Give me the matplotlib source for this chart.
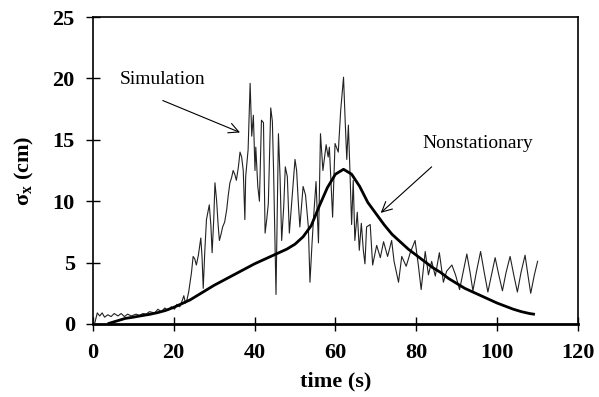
import numpy as np
import matplotlib
matplotlib.use("Agg")
import matplotlib.pyplot as plt

plt.rcParams['font.family'] = ['Liberation Serif', 'DejaVu Serif']
plt.rcParams['mathtext.fontset'] = 'custom'
plt.rcParams['mathtext.rm'] = 'Liberation Serif'
plt.rcParams['mathtext.it'] = 'Liberation Serif'
plt.rcParams['mathtext.bf'] = 'Liberation Serif:bold'

# simulated response (time in s, sigma_x in cm)
t_sim = [0.5, 1.1, 1.7, 2.3, 2.9, 3.7, 4.5, 5.3, 6.2, 7.0, 7.8, 8.6, 9.5,
         10.7, 11.5, 12.4, 13.2, 14.0, 15.3, 16.1, 16.9, 17.8, 18.6, 19.4,
         20.2, 20.8, 21.5, 22.1, 22.5, 22.9, 23.3, 23.7, 24.0, 24.4, 24.8,
         25.2, 25.6, 26.1, 26.7, 27.0, 27.3, 27.7, 28.1, 28.8, 29.2, 29.5,
         29.9, 30.2, 30.6, 31.0, 31.3, 31.7, 32.1, 32.6, 33.1, 33.5, 33.9,
         34.3, 34.7, 35.1, 35.5, 36.0, 36.4, 36.8, 37.2, 37.6, 37.8, 38.4,
         38.9, 39.3, 39.7, 40.1, 40.3, 40.8, 41.2, 41.7, 42.2, 42.6, 43.0,
         43.4, 44.0, 44.4, 44.7, 45.3, 45.9, 46.3, 46.7, 47.2, 47.6, 48.1,
         48.6, 49.2, 50.0, 50.4, 50.8, 51.2, 52.0, 52.6, 53.3, 53.7, 54.2,
         54.6, 55.2, 55.8, 56.3, 56.9, 57.7, 58.2, 58.5, 59.3, 59.9, 60.7,
         61.3, 62.0, 62.4, 62.8, 63.2, 63.6, 64.0, 64.4, 64.8, 65.4, 65.9,
         66.4, 66.9, 67.3, 67.7, 68.6, 69.2, 70.2, 71.1, 71.9, 72.9, 73.9,
         74.5, 75.6, 76.4, 77.5, 78.5, 79.7, 80.5, 81.2, 82.2, 83.0, 83.8,
         84.7, 85.7, 86.7, 87.5, 88.8, 89.7, 90.7, 91.7, 92.5, 93.3, 94.0,
         94.9, 95.9, 96.8, 97.7, 98.6, 99.5, 100.4, 101.3, 102.2, 103.2,
         104.1, 105.0, 105.9, 106.9, 107.6, 108.3, 109.2, 110.0]
sx_sim = [0.1, 0.9, 0.65, 0.9, 0.55, 0.75, 0.6, 0.85, 0.65, 0.85, 0.6, 0.8,
          0.65, 0.8, 0.7, 0.85, 0.8, 1.0, 0.9, 1.2, 1.0, 1.3, 1.1, 1.4, 1.2,
          1.6, 1.4, 1.9, 2.3, 1.7, 2.0, 2.6, 3.3, 4.2, 5.5, 5.3, 4.8, 5.6,
          7.0, 5.5, 2.9, 6.0, 8.5, 9.7, 8.0, 5.8, 8.5, 11.5, 10.1, 8.0, 6.8,
          7.3, 7.9, 8.3, 9.3, 10.5, 11.5, 11.9, 12.5, 12.2, 11.7, 12.8, 14.0,
          13.6, 12.5, 8.5, 12.0, 14.2, 19.6, 15.3, 17.0, 12.5, 14.4, 11.2,
          10.0, 16.6, 16.4, 7.4, 8.5, 9.8, 17.6, 16.5, 12.5, 2.4, 15.5, 12.0,
          6.8, 9.5, 12.8, 12.0, 7.4, 10.0, 13.4, 12.5, 10.0, 7.9, 11.2, 10.5,
          7.9, 3.4, 6.5, 8.7, 11.6, 6.6, 15.5, 12.5, 14.6, 13.6, 14.4, 8.7,
          14.7, 14.0, 17.4, 20.1, 16.6, 13.4, 16.2, 12.3, 8.1, 11.7, 6.8,
          9.1, 6.0, 8.2, 6.0, 4.9, 7.9, 8.1, 4.8, 6.4, 5.4, 6.7, 5.5, 6.8,
          5.1, 3.4, 5.5, 4.7, 5.8, 6.8, 4.8, 2.8, 5.9, 4.0, 5.1, 3.9, 5.8,
          3.4, 4.3, 4.8, 4.0, 2.8, 4.4, 5.7, 4.2, 2.7, 4.3, 5.9, 4.2, 2.6,
          4.0, 5.4, 4.0, 2.7, 4.2, 5.5, 4.0, 2.6, 4.2, 5.6, 4.0, 2.5, 4.0, 5.1]

# nonstationary model
t_ns = [4, 6, 8, 10, 12, 14, 16, 18, 20, 22, 24, 26, 28, 30, 32, 34, 36, 38,
        40, 42, 44, 46, 48, 50, 52, 54, 56, 58, 60, 62, 64, 66, 68, 70, 72,
        74, 76, 78, 80, 82, 84, 86, 88, 90, 92, 94, 96, 98, 100, 102, 104,
        106, 108, 109]
sx_ns = [0.05, 0.25, 0.45, 0.55, 0.67, 0.78, 0.92, 1.1, 1.35, 1.65, 1.95,
         2.35, 2.75, 3.15, 3.5, 3.85, 4.2, 4.55, 4.9, 5.2, 5.5, 5.8, 6.1,
         6.5, 7.1, 8.0, 9.6, 11.1, 12.2, 12.6, 12.2, 11.2, 9.9, 9.0, 8.1,
         7.3, 6.7, 6.1, 5.6, 5.1, 4.6, 4.2, 3.7, 3.3, 2.9, 2.6, 2.3, 2.0,
         1.7, 1.45, 1.2, 1.0, 0.85, 0.8]

fig = plt.figure(figsize=(5.99, 3.97), dpi=100)
ax = fig.add_axes([0.155, 0.184, 0.81, 0.773])

ax.plot(t_sim, sx_sim, color='#222222', lw=0.8)
ax.plot(t_ns, sx_ns, color='black', lw=2.0)

ax.set_xlim(0, 120)
ax.set_ylim(0, 25)
ax.set_xticks(np.arange(0, 121, 20))
ax.set_yticks(np.arange(0, 26, 5))
ax.tick_params(direction='inout', length=10, width=1.0, labelsize=16)
ax.tick_params(axis='x', pad=9)
ax.tick_params(axis='y', pad=8)
for lab in ax.get_xticklabels() + ax.get_yticklabels():
    lab.set_fontweight('bold')
for s in ax.spines.values():
    s.set_linewidth(1.2)
ax.spines['bottom'].set_linewidth(2.0)

ax.set_xlabel('time (s)', fontsize=16, fontweight='bold', labelpad=6)
ax.set_ylabel(r'$\mathbf{\sigma}_{\mathbf{x}}$ (cm)', fontsize=16,
              fontweight='bold', labelpad=12)

arrow = dict(arrowstyle='->', color='black', lw=0.8,
             mutation_scale=18, shrinkA=0, shrinkB=0)
ax.annotate('Simulation', xy=(36.4, 15.6), xytext=(6.7, 19.9),
            fontsize=14, va='center', ha='left')
ax.annotate('', xy=(36.4, 15.6), xytext=(17.3, 18.2), arrowprops=arrow)
ax.annotate('Nonstationary', xy=(71.2, 9.05), xytext=(81.4, 14.7),
            fontsize=14, va='center', ha='left')
ax.annotate('', xy=(71.2, 9.05), xytext=(83.8, 12.8), arrowprops=arrow)

fig.savefig('out.png', dpi=100)
